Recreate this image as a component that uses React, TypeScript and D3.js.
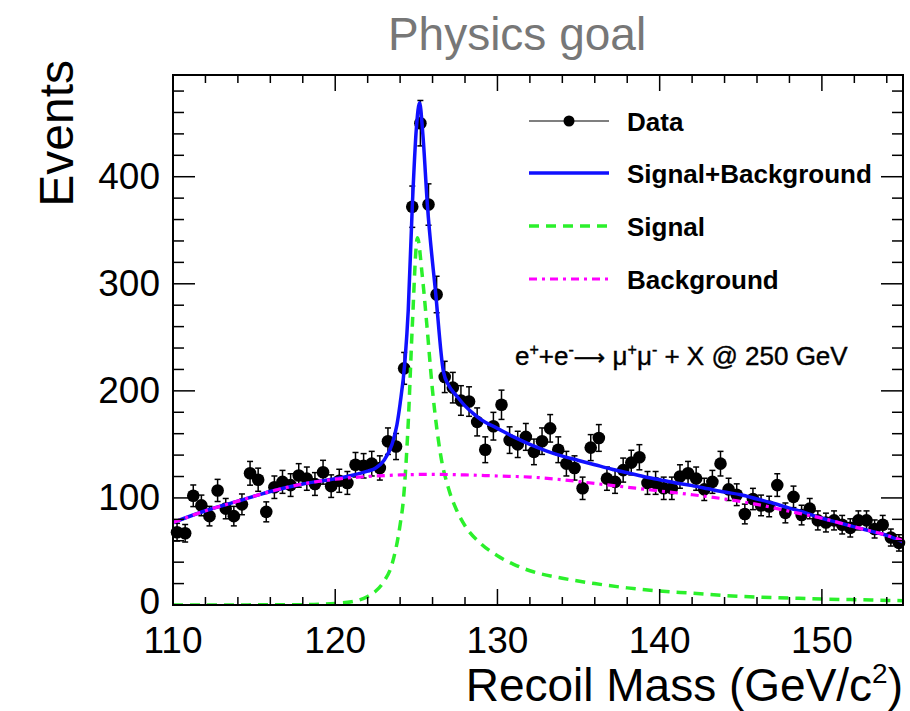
import React from "react";
import * as d3 from "d3";

// ---------- data ----------
const binCenters: number[] = [
  110.25, 110.75, 111.25, 111.75, 112.25, 112.75, 113.25, 113.75, 114.25, 114.75,
  115.25, 115.75, 116.25, 116.75, 117.25, 117.75, 118.25, 118.75, 119.25, 119.75,
  120.25, 120.75, 121.25, 121.75, 122.25, 122.75, 123.25, 123.75, 124.25, 124.75,
  125.25, 125.75, 126.25, 126.75, 127.25, 127.75, 128.25, 128.75, 129.25, 129.75,
  130.25, 130.75, 131.25, 131.75, 132.25, 132.75, 133.25, 133.75, 134.25, 134.75,
  135.25, 135.75, 136.25, 136.75, 137.25, 137.75, 138.25, 138.75, 139.25, 139.75,
  140.25, 140.75, 141.25, 141.75, 142.25, 142.75, 143.25, 143.75, 144.25, 144.75,
  145.25, 145.75, 146.25, 146.75, 147.25, 147.75, 148.25, 148.75, 149.25, 149.75,
  150.25, 150.75, 151.25, 151.75, 152.25, 152.75, 153.25, 153.75, 154.25, 154.75,
];
const dataEvents: number[] = [
  68, 67, 102, 93, 83, 107, 90, 83, 94, 123,
  117, 87, 110, 115, 112, 121, 118, 113, 124, 111,
  116, 114, 131, 130, 132, 128, 153, 148, 221, 372,
  450, 374, 290, 213, 203, 191, 190, 171, 145, 167,
  187, 154, 150, 157, 143, 153, 165, 145, 132, 128,
  109, 147, 156, 118, 115, 126, 133, 138, 114, 114,
  109, 109, 120, 123, 118, 108, 115, 132, 108, 103,
  85, 99, 93, 92, 112, 86, 101, 84, 90, 79,
  77, 79, 75, 72, 79, 79, 71, 75, 63, 58,
];

// fitted curves
const sbMass: number[] = [
  110, 112, 114, 116, 118, 120, 121, 122, 122.5, 123, 123.5, 123.8, 124, 124.3, 124.5,
  124.75, 125, 125.2, 125.4, 125.68, 126.2, 126.67, 127, 127.5, 128, 128.5, 129, 130,
  131, 132, 133, 134, 135, 136, 137, 138, 139, 140, 141, 142, 143, 144, 145, 146, 147,
  148, 149, 150, 151, 152, 153, 154, 155,
];
const sbEvents: number[] = [
  77, 88, 97, 106, 113, 118, 121, 125, 128, 135, 150, 168, 188, 228, 275,
  372, 445, 469, 440, 374, 290, 218, 205, 195, 186, 179, 173, 165,
  157, 150, 144, 139, 135, 131, 127, 123.5, 120, 117, 114, 111.5, 108.5, 105.5, 103, 99, 95,
  90.5, 86, 81, 77, 73, 69, 65, 59,
];
const sigMass: number[] = [
  110, 118, 120, 121, 122, 122.5, 123, 123.5, 124, 124.2, 124.5, 124.75, 125.07, 125.35,
  125.64, 126, 126.5, 127, 127.5, 128, 129, 130, 131, 132, 134, 136, 138, 140, 142, 145,
  148, 150, 152, 155,
];
const sigEvents: number[] = [
  0, 0.3, 1.5, 3, 8, 13, 22, 38, 75, 98, 170, 260, 343, 310,
  263, 200, 140, 108, 88, 74, 57, 46, 38, 32, 25, 20, 16, 13, 11, 8,
  6.5, 5.5, 5, 4,
];
const bgMass: number[] = [
  110, 112, 114, 116, 118, 120, 122, 124, 126, 128, 130, 132, 134, 136, 138, 140, 142,
  144, 146, 148, 150, 152, 154, 155,
];
const bgEvents: number[] = [
  77, 88, 97, 106, 113, 117.5, 120, 121.5, 122, 121.5, 120.5, 119.5, 117, 113.5, 110,
  106.5, 103, 99, 94, 87.5, 81, 73, 65, 60,
];

const xMajorTicks: number[] = [110, 120, 130, 140, 150];
const yMajorTicks: number[] = [0, 100, 200, 300, 400];
const legendLabels: string[] = ["Data", "Signal+Background", "Signal", "Background"];

// ---------- layout ----------
const W = 910;
const H = 711;
const L = 173;
const R = 903;
const T = 75;
const B = 605;
const FONT = "'Liberation Sans', Arial, Helvetica, sans-serif";

const BLUE = "#1010ff";
const GREEN = "#2bf02b";
const MAGENTA = "#ff00ff";

export default function App() {
  const x = d3.scaleLinear().domain([110, 155]).range([L, R]);
  const y = d3.scaleLinear().domain([0, 495]).range([B, T]);

  const xMinor = d3.range(110, 155.01, 2).filter((v) => !xMajorTicks.includes(v));
  const yMinor = d3.range(0, 495, 20).filter((v) => !yMajorTicks.includes(v));

  const line = d3
    .line<[number, number]>()
    .x((d) => x(d[0]))
    .y((d) => y(d[1]))
    .curve(d3.curveMonotoneX);

  const sbPath = line(sbMass.map((m, i) => [m, sbEvents[i]]) as [number, number][]) || "";
  const sigPath = line(sigMass.map((m, i) => [m, sigEvents[i]]) as [number, number][]) || "";
  const bgPath = line(bgMass.map((m, i) => [m, bgEvents[i]]) as [number, number][]) || "";

  const xMajLen = 16;
  const xMinLen = 8;
  const yMajLen = 22;
  const yMinLen = 11;

  const legendY = [121, 173, 226, 279];
  const legX0 = 529;
  const legX1 = 609;

  return (
    <svg
      width={W}
      height={H}
      viewBox={`0 0 ${W} ${H}`}
      style={{ position: "absolute", left: 0, top: 0, background: "#fff" }}
      fontFamily={FONT}
    >
      <rect x={0} y={0} width={W} height={H} fill="#fff" />
      {/* title */}
      <text x={517} y={50} textAnchor="middle" fontSize={46} fill="#777">
        Physics goal
      </text>

      <defs>
        <clipPath id="plotclip">
          <rect x={L} y={T} width={R - L} height={B - T} />
        </clipPath>
      </defs>

      {/* data points with error bars */}
      <g>
        {binCenters.map((m, i) => {
          const v = dataEvents[i];
          const e = Math.sqrt(v);
          const cx = x(m);
          return (
            <g key={i}>
              <line x1={cx} x2={cx} y1={y(v - e)} y2={y(v + e)} stroke="#000" strokeWidth={1.5} />
              <line x1={cx - 3} x2={cx + 3} y1={y(v - e)} y2={y(v - e)} stroke="#000" strokeWidth={1.5} />
              <line x1={cx - 3} x2={cx + 3} y1={y(v + e)} y2={y(v + e)} stroke="#000" strokeWidth={1.5} />
              <circle cx={cx} cy={y(v)} r={6.3} fill="#000" />
            </g>
          );
        })}
      </g>

      {/* curves */}
      <g clipPath="url(#plotclip)">
        <path d={sbPath} fill="none" stroke={BLUE} strokeWidth={3.5} />
        <path d={sigPath} fill="none" stroke={GREEN} strokeWidth={3.5} strokeDasharray="10,7" />
        <path d={bgPath} fill="none" stroke={MAGENTA} strokeWidth={3.2} strokeDasharray="8,5,3,5" />
      </g>

      {/* frame */}
      <rect x={L} y={T} width={R - L} height={B - T} fill="none" stroke="#000" strokeWidth={2} />

      {/* x ticks */}
      {xMajorTicks.map((t) => (
        <g key={"xm" + t}>
          <line x1={x(t)} x2={x(t)} y1={B} y2={B - xMajLen} stroke="#000" strokeWidth={1.5} />
          <line x1={x(t)} x2={x(t)} y1={T} y2={T + xMajLen} stroke="#000" strokeWidth={1.5} />
          <text x={x(t)} y={653} textAnchor="middle" fontSize={37} fill="#000">
            {t}
          </text>
        </g>
      ))}
      {xMinor.map((t) => (
        <g key={"xn" + t}>
          <line x1={x(t)} x2={x(t)} y1={B} y2={B - xMinLen} stroke="#000" strokeWidth={1.5} />
          <line x1={x(t)} x2={x(t)} y1={T} y2={T + xMinLen} stroke="#000" strokeWidth={1.5} />
        </g>
      ))}

      {/* y ticks */}
      {yMajorTicks.map((t) => (
        <g key={"ym" + t}>
          <line x1={L} x2={L + yMajLen} y1={y(t)} y2={y(t)} stroke="#000" strokeWidth={1.5} />
          <line x1={R} x2={R - yMajLen} y1={y(t)} y2={y(t)} stroke="#000" strokeWidth={1.5} />
          <text x={160} y={y(t) + (t === 0 ? 9 : 12)} textAnchor="end" fontSize={37} fill="#000">
            {t}
          </text>
        </g>
      ))}
      {yMinor.map((t) => (
        <g key={"yn" + t}>
          <line x1={L} x2={L + yMinLen} y1={y(t)} y2={y(t)} stroke="#000" strokeWidth={1.5} />
          <line x1={R} x2={R - yMinLen} y1={y(t)} y2={y(t)} stroke="#000" strokeWidth={1.5} />
        </g>
      ))}

      {/* axis titles */}
      <text
        transform={`translate(73,60) rotate(-90)`}
        textAnchor="end"
        fontSize={48}
        fill="#000"
      >
        Events
      </text>
      <text x={903} y={701} textAnchor="end" fontSize={46} fill="#000">
        Recoil Mass (GeV/c
        <tspan fontSize={28} dy={-18}>2</tspan>
        <tspan dy={18}>)</tspan>
      </text>

      {/* legend */}
      <g>
        <line x1={legX0} x2={legX1} y1={legendY[0]} y2={legendY[0]} stroke="#000" strokeWidth={1.2} />
        <circle cx={(legX0 + legX1) / 2} cy={legendY[0]} r={5.5} fill="#000" />
        <line x1={legX0} x2={legX1} y1={legendY[1]} y2={legendY[1]} stroke={BLUE} strokeWidth={3.5} />
        <line x1={legX0} x2={legX1} y1={legendY[2]} y2={legendY[2]} stroke={GREEN} strokeWidth={3.5} strokeDasharray="10,7" />
        <line x1={legX0} x2={legX1} y1={legendY[3]} y2={legendY[3]} stroke={MAGENTA} strokeWidth={3.2} strokeDasharray="8,5,3,5" />
        {legendLabels.map((lab, i) => (
          <text key={lab} x={627} y={legendY[i] + 9.5} fontSize={26} fontWeight="bold" fill="#000">
            {lab}
          </text>
        ))}
      </g>

      {/* process annotation */}
      <text x={515} y={365} fontSize={26} fill="#000" stroke="#000" strokeWidth={0.4}>
        e<tspan fontSize={16} dy={-10}>+</tspan>
        <tspan dy={10}>+e</tspan>
        <tspan fontSize={16} dy={-10}>-</tspan>
        <tspan dy={10} fontFamily="'DejaVu Sans', sans-serif" fontSize={22}>{"\u27f6"}</tspan>
        <tspan>{" \u03bc"}</tspan>
        <tspan fontSize={16} dy={-10}>+</tspan>
        <tspan dy={10}>{"\u03bc"}</tspan>
        <tspan fontSize={16} dy={-10}>-</tspan>
        <tspan dy={10}>{" + X @ 250 GeV"}</tspan>
      </text>
    </svg>
  );
}
